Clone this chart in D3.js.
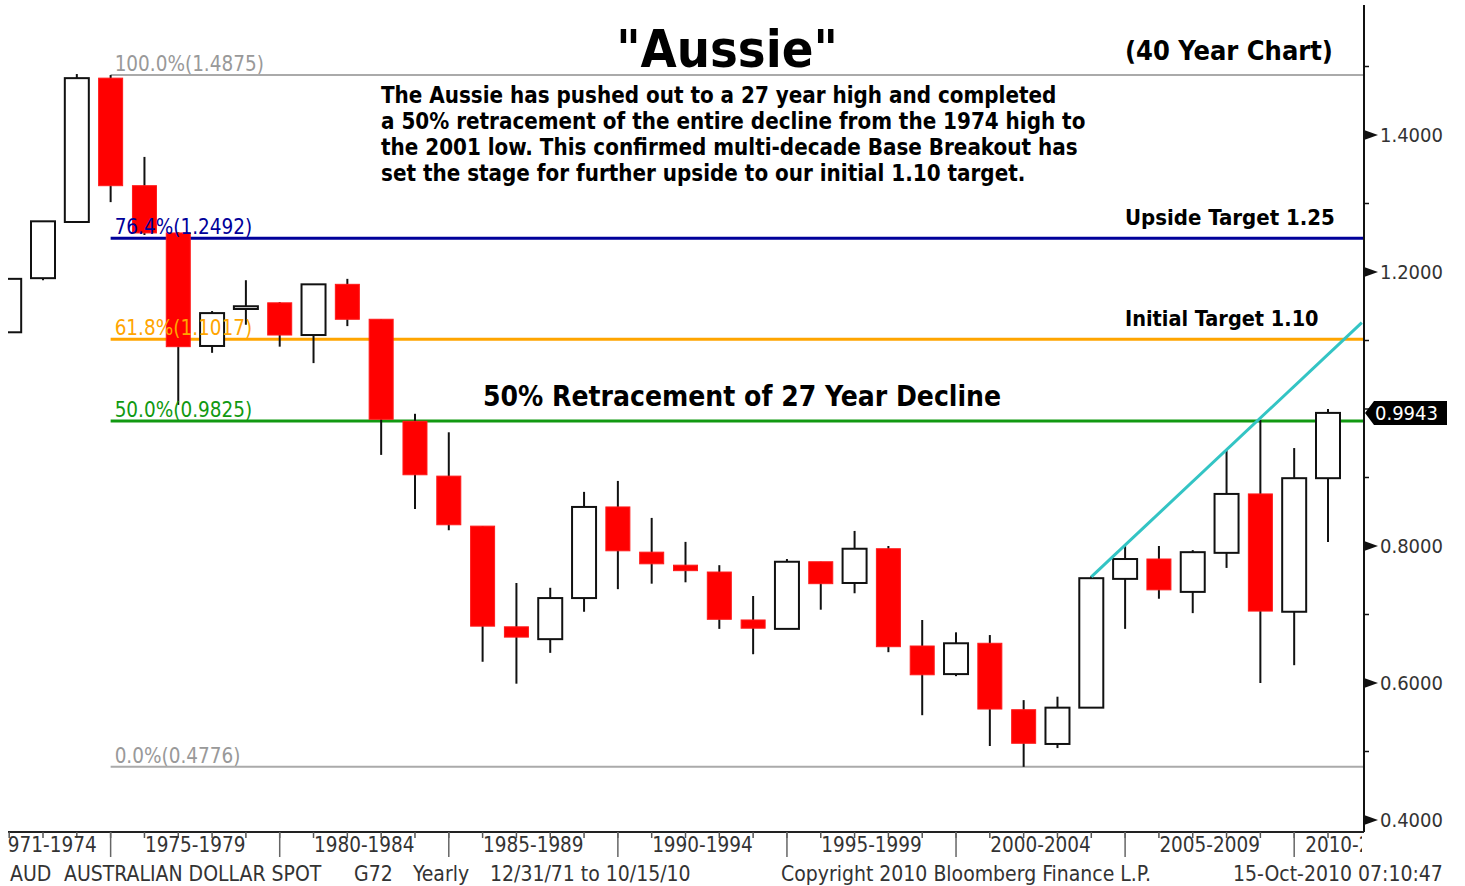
<!DOCTYPE html>
<html>
<head>
<meta charset="utf-8">
<script src="https://cdn.jsdelivr.net/npm/d3@7"></script>
<style>
  body { margin: 0; background: #fff; }
  svg { display: block; }
  text { font-family: "DejaVu Sans Condensed", "DejaVu Sans", sans-serif; }
</style>
</head>
<body>
<div id="chart"></div>
<script>
// yearly AUD candles, 1971 - 2010
var years  = d3.range(1971, 2011);
var opens  = [1.112,1.191,1.273,1.483,1.326,1.257,1.092,1.146,1.155,1.108,
              1.182,1.131,0.982,0.902,0.829,0.682,0.664,0.724,0.857,0.791,
              0.772,0.762,0.692,0.679,0.777,0.746,0.796,0.654,0.613,0.658,
              0.561,0.511,0.564,0.752,0.781,0.733,0.790,0.876,0.704,0.899];
var highs  = [1.190,1.274,1.489,1.4875,1.368,1.258,1.143,1.188,1.156,1.182,
              1.190,1.131,0.993,0.966,0.829,0.746,0.739,0.879,0.895,0.841,
              0.806,0.772,0.727,0.781,0.777,0.822,0.800,0.692,0.674,0.670,
              0.575,0.580,0.756,0.800,0.800,0.794,0.940,0.984,0.943,1.000];
var lows   = [1.112,1.188,1.273,1.302,1.254,1.006,1.082,1.123,1.091,1.067,
              1.121,0.933,0.854,0.823,0.631,0.599,0.644,0.704,0.737,0.745,
              0.747,0.679,0.642,0.679,0.707,0.731,0.645,0.553,0.610,0.508,
              0.4776,0.505,0.564,0.679,0.723,0.702,0.768,0.600,0.626,0.806];
var closes = [1.190,1.274,1.483,1.326,1.257,1.091,1.140,1.150,1.108,1.182,
              1.131,0.985,0.904,0.831,0.683,0.667,0.724,0.857,0.793,0.774,
              0.764,0.693,0.680,0.777,0.745,0.796,0.653,0.612,0.658,0.562,
              0.512,0.564,0.753,0.781,0.736,0.791,0.876,0.705,0.899,0.9943];

// retracement levels
var fibPct    = ["100.0%", "76.4%", "61.8%", "50.0%", "0.0%"];
var fibValues = [1.4875, 1.2492, 1.1017, 0.9825, 0.4776];
var fibColors = ["#aaaaaa", "#00009a", "#ffa500", "#119911", "#aaaaaa"];
var fibWidths = [2, 3, 3, 3, 2];

// trend line (year, value)
var trendYears  = [2003, 2011];
var trendValues = [0.755, 1.126];

// axis labels
var yTicks = [0.4, 0.6, 0.8, 1.2, 1.4];
var yMinor = [0.5, 0.7, 0.9, 1.0, 1.1, 1.3, 1.5];
var periodLabels = ["1971-1974","1975-1979","1980-1984","1985-1989","1990-1994",
                    "1995-1999","2000-2004","2005-2009","2010-2014"];
var periodEnds = [1974, 1979, 1984, 1989, 1994, 1999, 2004, 2009];
var lastPrice = 0.9943;

var noteLines = [
  "The Aussie has pushed out to a 27 year high and completed",
  "a 50% retracement of the entire decline from the 1974 high to",
  "the 2001 low. This confirmed multi-decade Base Breakout has",
  "set the stage for further upside to our initial 1.10 target."
];

var W = 1465, H = 886;
var plotLeft = 8, plotRight = 1364, axisY = 832;

var x = d3.scaleLinear().domain([1972, 2010]).range([43, 1328]);
var y = d3.scaleLinear().domain([0.6, 1.4]).range([683, 135]);
var candleW = 24;

var svg = d3.select("#chart").append("svg")
    .attr("width", W)
    .attr("height", H);

svg.append("defs").append("clipPath")
    .attr("id", "plotclip")
  .append("rect")
    .attr("x", plotLeft).attr("y", 0)
    .attr("width", plotRight - plotLeft).attr("height", axisY);

svg.append("defs").append("clipPath")
    .attr("id", "axisclip")
  .append("rect")
    .attr("x", plotLeft).attr("y", axisY)
    .attr("width", plotRight - plotLeft - 2).attr("height", 30);

// fib lines
var fibs = fibValues.map(function(v, i) {
  return {v: v, pct: fibPct[i], color: fibColors[i], w: fibWidths[i]};
});

svg.selectAll(".fib")
    .data(fibs)
  .enter().append("line")
    .attr("x1", x(1974)).attr("x2", plotRight)
    .attr("y1", function(d) { return y(d.v); })
    .attr("y2", function(d) { return y(d.v); })
    .attr("stroke", function(d) { return d.color; })
    .attr("stroke-width", function(d) { return d.w; });

// candles
var candles = years.map(function(yr, i) {
  return {year: yr, o: opens[i], h: highs[i], l: lows[i], c: closes[i]};
});

var g = svg.append("g").attr("clip-path", "url(#plotclip)");

g.selectAll(".wick")
    .data(candles)
  .enter().append("line")
    .attr("x1", function(d) { return x(d.year); })
    .attr("x2", function(d) { return x(d.year); })
    .attr("y1", function(d) { return y(d.h); })
    .attr("y2", function(d) { return y(d.l); })
    .attr("stroke", "#111")
    .attr("stroke-width", 2);

g.selectAll(".body")
    .data(candles)
  .enter().append("rect")
    .attr("x", function(d) { return x(d.year) - candleW / 2; })
    .attr("width", candleW)
    .attr("y", function(d) { return y(Math.max(d.o, d.c)); })
    .attr("height", function(d) { return Math.max(2, Math.abs(y(d.o) - y(d.c))); })
    .attr("fill", function(d) { return d.c >= d.o ? "#fff" : "#ff0000"; })
    .attr("stroke", function(d) { return d.c >= d.o ? "#111" : "#ff1a1a"; })
    .attr("stroke-width", function(d) { return d.c >= d.o ? 2 : 1; });

// trend line
svg.append("line")
    .attr("x1", x(trendYears[0])).attr("y1", y(trendValues[0]))
    .attr("x2", x(trendYears[1])).attr("y2", y(trendValues[1]))
    .attr("stroke", "#33c4c4")
    .attr("stroke-width", 3);

// fib labels
svg.selectAll(".fiblabel")
    .data(fibs)
  .enter().append("text")
    .attr("x", x(1974) + 4)
    .attr("y", function(d) { return y(d.v) - 4; })
    .attr("fill", function(d) { return d.color === "#aaaaaa" ? "#999" : d.color; })
    .style("font-size", "20.5px")
    .text(function(d) { return d.pct + "(" + d3.format(".4f")(d.v) + ")"; });

// y axis
svg.append("line")
    .attr("x1", plotRight).attr("x2", plotRight)
    .attr("y1", 5).attr("y2", axisY)
    .attr("stroke", "#111").attr("stroke-width", 2);

svg.selectAll(".minor")
    .data(yMinor)
  .enter().append("line")
    .attr("x1", plotRight).attr("x2", plotRight + 5)
    .attr("y1", function(d) { return y(d); })
    .attr("y2", function(d) { return y(d); })
    .attr("stroke", "#111").attr("stroke-width", 1.5);

var yt = svg.selectAll(".ytick")
    .data(yTicks)
  .enter().append("g")
    .attr("transform", function(d) { return "translate(" + plotRight + "," + y(d) + ")"; });

yt.append("path")
    .attr("d", "M0,-5L14,0L0,5Z")
    .attr("fill", "#111");

yt.append("text")
    .attr("x", 16).attr("y", 7)
    .attr("fill", "#333")
    .style("font-size", "20px")
    .text(function(d) { return d3.format(".4f")(d); });

// last price tag
var py = y(lastPrice);
svg.append("path")
    .attr("d", "M" + (plotRight + 1) + "," + py + "L" + (plotRight + 10) + "," + (py - 12) +
          "L1447," + (py - 12) + "L1447," + (py + 12) + "L" + (plotRight + 10) + "," + (py + 12) + "Z")
    .attr("fill", "#000");
svg.append("text")
    .attr("x", plotRight + 11).attr("y", py + 7)
    .attr("fill", "#fff")
    .style("font-size", "20px")
    .text(d3.format(".4f")(lastPrice));

// x axis
svg.append("line")
    .attr("x1", plotLeft).attr("x2", plotRight)
    .attr("y1", axisY).attr("y2", axisY)
    .attr("stroke", "#222").attr("stroke-width", 2);

svg.selectAll(".xminor")
    .data(years)
  .enter().append("line")
    .attr("x1", function(d) { return x(d); })
    .attr("x2", function(d) { return x(d); })
    .attr("y1", axisY).attr("y2", axisY + 6)
    .attr("stroke", "#555").attr("stroke-width", 1.5);

svg.selectAll(".xsep")
    .data(periodEnds)
  .enter().append("line")
    .attr("x1", function(d) { return x(d); })
    .attr("x2", function(d) { return x(d); })
    .attr("y1", axisY).attr("y2", axisY + 25)
    .attr("stroke", "#666").attr("stroke-width", 1.5);

var xl = svg.append("g").attr("clip-path", "url(#axisclip)");
xl.selectAll(".xlabel")
    .data(periodLabels)
  .enter().append("text")
    .attr("x", function(d, i) {
      if (i === 0) return x(periodEnds[0]) - 14;
      if (i === periodLabels.length - 1) return x(periodEnds[i - 1]) + 11;
      return (x(periodEnds[i - 1]) + x(periodEnds[i])) / 2;
    })
    .attr("y", 852)
    .attr("text-anchor", function(d, i) {
      if (i === 0) return "end";
      if (i === periodLabels.length - 1) return "start";
      return "middle";
    })
    .attr("fill", "#333")
    .style("font-size", "20.5px")
    .text(function(d) { return d; });

// footer
var footer = [
  ["AUD", 10], ["AUSTRALIAN DOLLAR SPOT", 64], ["G72", 354], ["Yearly", 413],
  ["12/31/71 to 10/15/10", 490], ["Copyright 2010 Bloomberg Finance L.P.", 781],
  ["15-Oct-2010 07:10:47", 1233]
];
svg.selectAll(".foot")
    .data(footer)
  .enter().append("text")
    .attr("x", function(d) { return d[1]; })
    .attr("y", 881)
    .attr("fill", "#333")
    .style("font-size", "21px")
    .text(function(d) { return d[0]; });

// titles and notes
svg.append("text")
    .attr("x", 727).attr("y", 67)
    .attr("text-anchor", "middle")
    .style("font-size", "52px").style("font-weight", "bold")
    .text("\"Aussie\"");

svg.append("text")
    .attr("x", 1125).attr("y", 60)
    .style("font-size", "27px").style("font-weight", "bold")
    .text("(40 Year Chart)");

svg.selectAll(".note")
    .data(noteLines)
  .enter().append("text")
    .attr("x", 381)
    .attr("y", function(d, i) { return 103 + i * 26; })
    .style("font-size", "22.2px").style("font-weight", "bold")
    .text(function(d) { return d; });

svg.append("text")
    .attr("x", 1125).attr("y", 225)
    .style("font-size", "22px").style("font-weight", "bold")
    .text("Upside Target 1.25");

svg.append("text")
    .attr("x", 1125).attr("y", 326)
    .style("font-size", "21.5px").style("font-weight", "bold")
    .text("Initial Target 1.10");

svg.append("text")
    .attr("x", 483).attr("y", 406)
    .style("font-size", "28px").style("font-weight", "bold")
    .text("50% Retracement of 27 Year Decline");
</script>
</body>
</html>
